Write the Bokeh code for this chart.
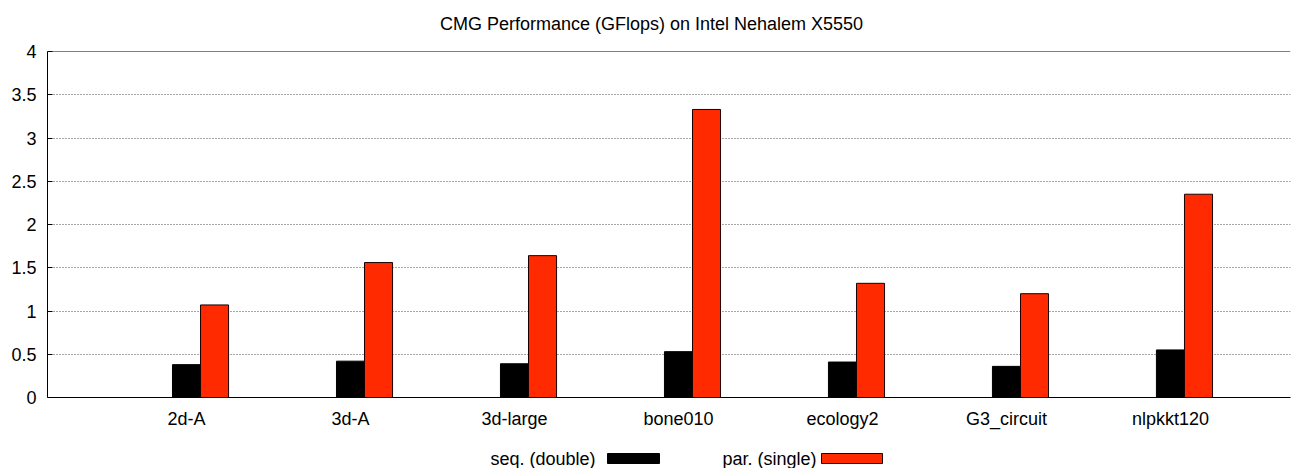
from bokeh.plotting import figure
from bokeh.layouts import column
from bokeh.models import Range1d, FixedTicker, Span
from bokeh.core.properties import value
from bokeh.embed import file_html
from bokeh.resources import INLINE

# ---- data ----
title_text = "CMG Performance (GFlops) on Intel Nehalem X5550"
categories = ["2d-A", "3d-A", "3d-large", "bone010", "ecology2", "G3_circuit", "nlpkkt120"]
seq_values = [0.38, 0.42, 0.39, 0.53, 0.41, 0.36, 0.55]
par_values = [1.07, 1.56, 1.64, 3.33, 1.32, 1.20, 2.35]
y_ticks = [0, 0.5, 1, 1.5, 2, 2.5, 3, 3.5, 4]
y_tick_labels = ["0", "0.5", "1", "1.5", "2", "2.5", "3", "3.5", "4"]
series_names = ["seq. (double)", "par. (single)"]
series_colors = ["#000000", "#ff2a00"]

FONT = "Liberation Sans"
BAR_W = 0.171

W = 1291
H_TITLE = 40
H_LEG = 32
H_MAIN = 468 - H_TITLE - H_LEG
LEFT = 47
RIGHT_BORDER = 1


def helper_fig(h):
    f = figure(width=W, height=h, output_backend="svg", toolbar_location=None,
               x_range=Range1d(LEFT, W - RIGHT_BORDER), y_range=Range1d(0, h),
               x_axis_location=None, y_axis_location=None,
               min_border_left=LEFT, min_border_right=RIGHT_BORDER,
               min_border_top=0, min_border_bottom=0)
    f.grid.visible = False
    f.outline_line_color = None
    f.background_fill_color = "white"
    f.border_fill_color = "white"
    return f


# ---- title ----
tf = helper_fig(H_TITLE)
tf.text(x=[651], y=[H_TITLE - 23], text=[title_text], text_font=value(FONT),
        text_font_size="18px", text_align="center", text_baseline="middle",
        text_color="#000000")

# ---- main chart ----
xs_seq = [i for i in range(len(categories))]
xs_par = [i + BAR_W for i in range(len(categories))]

p = figure(width=W, height=H_MAIN, output_backend="svg", toolbar_location=None,
           x_range=Range1d(-0.8476, 6.732), y_range=Range1d(0, 4),
           min_border_left=LEFT, min_border_right=RIGHT_BORDER,
           min_border_top=51 - H_TITLE, min_border_bottom=H_MAIN - (397 - H_TITLE))
p.outline_line_color = None
p.background_fill_color = "white"
p.border_fill_color = "white"

p.vbar(x=xs_seq, top=seq_values, width=BAR_W, bottom=0,
       fill_color=series_colors[0], line_color=series_colors[0], line_width=1)
p.vbar(x=xs_par, top=par_values, width=BAR_W, bottom=0,
       fill_color=series_colors[1], line_color="#1a0000", line_width=1)

p.add_layout(Span(location=4, dimension="width", line_color="black", line_width=1))

p.xgrid.visible = False
p.ygrid.ticker = FixedTicker(ticks=y_ticks)
p.ygrid.grid_line_color = "#000000"
p.ygrid.grid_line_alpha = 0.7
p.ygrid.grid_line_dash = "1 2"
p.ygrid.grid_line_width = 1
p.ygrid.level = "underlay"

p.yaxis.ticker = FixedTicker(ticks=y_ticks)
p.yaxis.major_label_overrides = {t: l for t, l in zip(y_ticks, y_tick_labels)}
p.yaxis.major_tick_in = 5
p.yaxis.major_tick_out = 0
p.yaxis.minor_tick_line_color = None
p.yaxis.major_label_standoff = 11
p.yaxis.major_label_text_font = FONT
p.yaxis.major_label_text_font_size = "18px"
p.yaxis.major_label_text_color = "#000000"
p.yaxis.axis_line_color = "black"

p.xaxis.ticker = FixedTicker(ticks=xs_seq)
p.xaxis.major_label_overrides = {x: c for x, c in zip(xs_seq, categories)}
p.xaxis.major_tick_line_color = None
p.xaxis.minor_tick_line_color = None
p.xaxis.major_label_standoff = 5
p.xaxis.major_label_text_font = FONT
p.xaxis.major_label_text_font_size = "18px"
p.xaxis.major_label_text_color = "#000000"
p.xaxis.axis_line_color = "black"

# ---- legend (text then sample box, gnuplot style) ----
leg = helper_fig(H_LEG)
text_right = [595, 816]
box_left = [607, 821]
box_w = [52, 61]
y_mid = 10
leg.text(x=text_right, y=[y_mid, y_mid], text=series_names,
         text_font=value(FONT), text_font_size="18px", text_align="right",
         text_baseline="middle", text_color="#000000")
leg.rect(x=[b + w / 2 for b, w in zip(box_left, box_w)], y=[y_mid, y_mid], width=box_w, height=10,
         fill_color=series_colors, line_color=["#000000", "#1a0000"], line_width=1)

layout = column(tf, p, leg, spacing=0)
open("out.html", "w").write(file_html(layout, INLINE))
